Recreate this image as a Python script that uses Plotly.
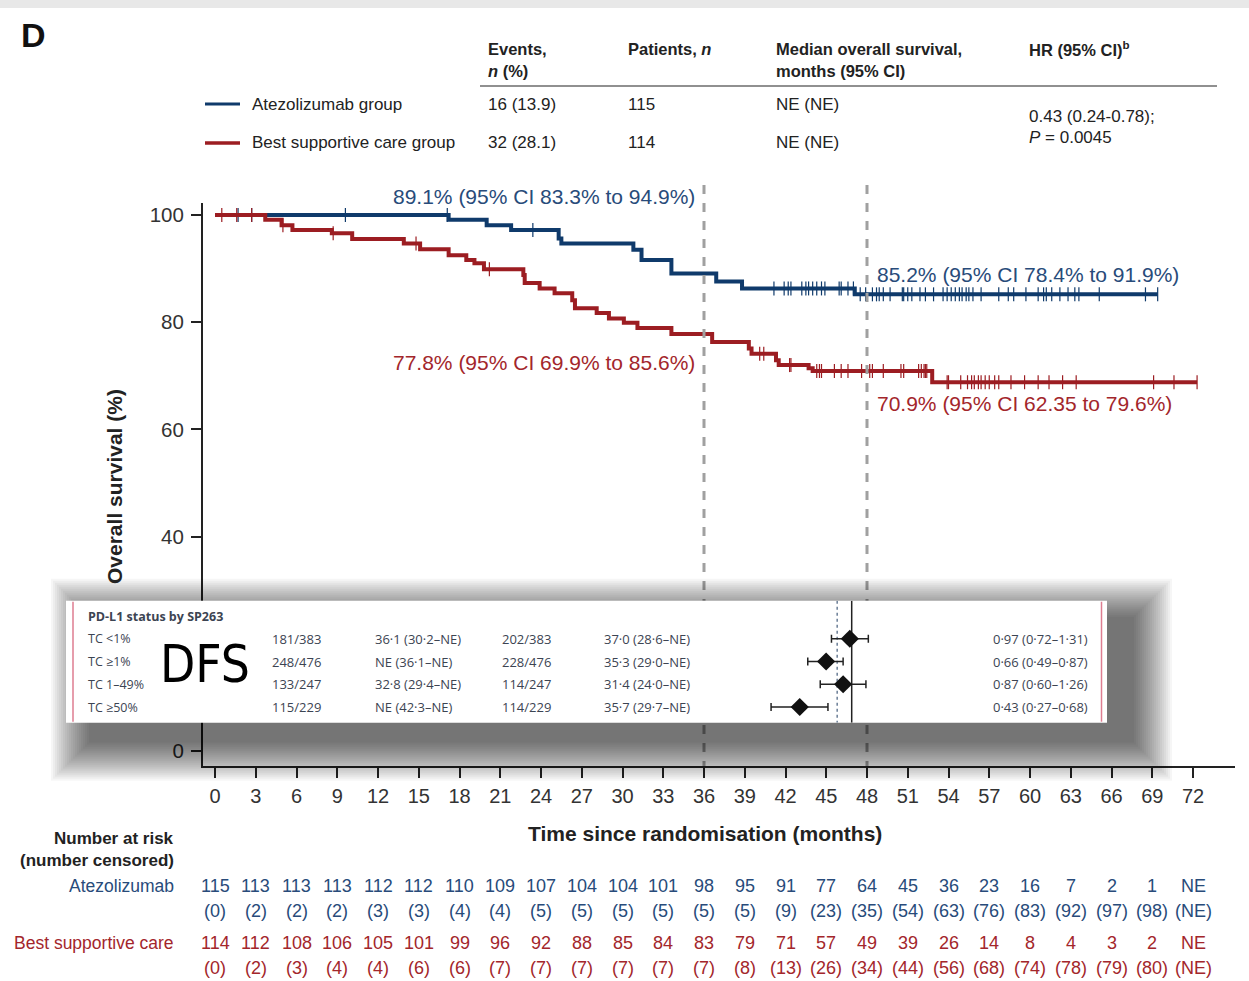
import plotly.graph_objects as go

W, H = 1249, 981

# ---------------- data ----------------
# Kaplan-Meier step curves (months, % surviving after each step)
atezo_t = [0, 17.2, 20.0, 21.8, 25.3, 25.5, 30.8, 31.4, 33.6, 36.9, 38.8, 47.1]
atezo_s = [100, 99.1, 98.1, 97.2, 95.6, 94.7, 93.5, 91.6, 89.1, 87.6, 86.3, 85.2]
atezo_end = 69.4
atezo_cens_t = [1.7, 2.7, 9.6, 17.1, 23.4, 41.15, 41.9, 42.2, 42.4, 43.2, 43.5, 43.7, 44.0, 44.3,
                44.65, 44.9, 45.95, 46.1, 46.6, 47.0, 47.5, 47.9, 48.4, 48.7, 48.9, 49.2, 49.7,
                50.6, 50.7, 51.0, 51.3, 51.9, 52.3, 52.9, 53.6, 53.9, 54.2, 54.5, 54.8, 55.0,
                55.3, 55.5, 55.8, 56.4, 57.7, 58.4, 58.8, 59.7, 60.6, 61.0, 61.2, 61.6, 62.2,
                62.8, 63.3, 63.6, 65.1, 68.5, 69.4]

bsc_t = [0, 3.7, 4.9, 5.7, 8.6, 10.1, 13.9, 15.1, 17.2, 18.5, 19.1, 19.8, 22.7, 22.8, 23.9,
         25.0, 26.3, 26.5, 28.1, 29.0, 30.1, 31.1, 33.6, 36.6, 39.3, 39.5, 41.3, 41.5, 43.7,
         44.0, 52.8]
bsc_s = [100, 99.1, 98.1, 97.2, 96.6, 95.5, 94.7, 93.6, 92.5, 91.6, 91.0, 89.9, 88.8, 87.3, 86.3,
         85.4, 84.1, 82.6, 81.7, 80.7, 79.9, 78.9, 77.8, 76.3, 75.1, 74.1, 72.9, 72.0, 71.4,
         70.9, 68.8]
bsc_end = 72.3
bsc_cens_t = [0.5, 1.6, 2.7, 5.0, 8.7, 14.8, 20.2, 40.1, 40.4, 42.3, 42.4, 44.3, 44.5, 44.65,
              45.6, 46.1, 46.6, 47.6, 48.2, 48.4, 49.2, 50.5, 50.7, 51.8, 52.0, 52.2, 52.3,
              52.4, 53.9, 54.0, 54.9, 55.4, 55.7, 55.9, 56.2, 56.4, 56.7, 57.0, 57.4, 57.7,
              58.6, 59.6, 60.6, 61.4, 62.4, 63.4, 69.1, 70.6, 72.3]

landmarks = [36, 48]
landmark_labels = {
    "atezo36": "89.1% (95% CI 83.3% to 94.9%)",
    "bsc36": "77.8% (95% CI 69.9% to 85.6%)",
    "atezo48": "85.2% (95% CI 78.4% to 91.9%)",
    "bsc48": "70.9% (95% CI 62.35 to 79.6%)",
}

months = list(range(0, 73, 3))
atezo_risk = ["115", "113", "113", "113", "112", "112", "110", "109", "107", "104", "104", "101",
              "98", "95", "91", "77", "64", "45", "36", "23", "16", "7", "2", "1", "NE"]
atezo_censn = ["0", "2", "2", "2", "3", "3", "4", "4", "5", "5", "5", "5", "5", "5", "9", "23",
               "35", "54", "63", "76", "83", "92", "97", "98", "NE"]
bsc_risk = ["114", "112", "108", "106", "105", "101", "99", "96", "92", "88", "85", "84", "83",
            "79", "71", "57", "49", "39", "26", "14", "8", "4", "3", "2", "NE"]
bsc_censn = ["0", "2", "3", "4", "4", "6", "6", "7", "7", "7", "7", "7", "7", "8", "13", "26",
             "34", "44", "56", "68", "74", "78", "79", "80", "NE"]

# summary table
tbl_groups = ["Atezolizumab group", "Best supportive care group"]
tbl_events = ["16 (13.9)", "32 (28.1)"]
tbl_patients = ["115", "114"]
tbl_median = ["NE (NE)", "NE (NE)"]
tbl_hr = ["0.43 (0.24-0.78);", "<i>P</i> = 0.0045"]

# inset (DFS by PD-L1)
subgroups = ["TC <1%", "TC ≥1%", "TC 1–49%", "TC ≥50%"]
dfs_atezo_n = ["181/383", "248/476", "133/247", "115/229"]
dfs_atezo_med = ["36·1 (30·2–NE)", "NE (36·1–NE)", "32·8 (29·4–NE)", "NE (42·3–NE)"]
dfs_bsc_n = ["202/383", "228/476", "114/247", "114/229"]
dfs_bsc_med = ["37·0 (28·6–NE)", "35·3 (29·0–NE)", "31·4 (24·0–NE)", "35·7 (29·7–NE)"]
hr = [0.97, 0.66, 0.87, 0.43]
hr_lo = [0.72, 0.49, 0.60, 0.27]
hr_hi = [1.31, 0.87, 1.26, 0.68]
hr_txt = ["0·97 (0·72–1·31)", "0·66 (0·49–0·87)", "0·87 (0·60–1·26)", "0·43 (0·27–0·68)"]
overall_hr = 0.79

# ---------------- style ----------------
FONT = "Liberation Sans, Arial, sans-serif"
INSET_FONT = "Open Sans, Noto Sans, sans-serif"
BLUE = "#0f3a6b"
RED = "#9c1d22"
BLUE_TXT = "#284b7a"
RED_TXT = "#a3262b"
INK = "#222222"
INSET_INK = "#3c4452"


def px(x):
    return x / W


def py(y):
    return 1 - y / H


def step_value(ts, ss, t):
    v = ss[0]
    for ti, si in zip(ts, ss):
        if ti <= t:
            v = si
    return v


fig = go.Figure()

# ---- main KM subplot (x, y) ----
for ts, ss, end, cens, col in [
    (atezo_t, atezo_s, atezo_end, atezo_cens_t, BLUE),
    (bsc_t, bsc_s, bsc_end, bsc_cens_t, RED),
]:
    fig.add_trace(go.Scatter(x=ts + [end], y=ss + [ss[-1]], mode="lines",
                             line=dict(color=col, width=4, shape="hv"),
                             showlegend=False, hoverinfo="skip", xaxis="x", yaxis="y"))
    fig.add_trace(go.Scatter(x=cens, y=[step_value(ts, ss, c) for c in cens], mode="markers",
                             marker=dict(symbol="line-ns", size=10,
                                         line=dict(color=col, width=1.2)),
                             showlegend=False, hoverinfo="skip", xaxis="x", yaxis="y"))

# dashed landmark lines (x in months, y on a full-height pixel axis)
for lm in landmarks:
    fig.add_trace(go.Scatter(x=[lm, lm], y=[185, 766], mode="lines",
                             line=dict(color="#a0a0a0", width=3, dash="dash"),
                             showlegend=False, hoverinfo="skip", xaxis="x", yaxis="y4"))

# ---- canvas subplot (x2, y2) in pixel coords: inset shadow + white box ----
box = (66, 600.7, 1107, 722.7)
dx, dy, step, K = 25, 18, 2.0, 20
for i in range(K, 0, -1):
    r = i * step
    x0, y0, x1, y1 = box[0] + dx - r, box[1] + dy - r, box[2] + dx + r, box[3] + dy + r
    fig.add_trace(go.Scatter(x=[x0, x1, x1, x0, x0], y=[y0, y0, y1, y1, y0], mode="lines",
                             fill="toself", fillcolor="rgba(0,0,0,0.034)",
                             line=dict(width=0, color="rgba(0,0,0,0)"),
                             showlegend=False, hoverinfo="skip", xaxis="x2", yaxis="y2"))
x0, y0, x1, y1 = box
fig.add_trace(go.Scatter(x=[x0, x1, x1, x0, x0], y=[y0, y0, y1, y1, y0], mode="lines",
                         fill="toself", fillcolor="white", line=dict(width=0, color="white"),
                         showlegend=False, hoverinfo="skip", xaxis="x2", yaxis="y2"))
for ex in (73, 1101.5):
    fig.add_trace(go.Scatter(x=[ex, ex], y=[y0 + 1, y1 - 1], mode="lines",
                             line=dict(color="#de7d90", width=1.5),
                             showlegend=False, hoverinfo="skip", xaxis="x2", yaxis="y2"))

# ---- forest subplot (x3 log, y3 rows) ----
rows = [1, 2, 3, 4]
for ref, dash, col in [(1.0, "solid", "#222222"), (overall_hr, "dot", "#6a7d96")]:
    fig.add_trace(go.Scatter(x=[ref, ref], y=[-0.6725, 4.69], mode="lines",
                             line=dict(color=col, width=1.5, dash=dash),
                             showlegend=False, hoverinfo="skip", xaxis="x3", yaxis="y3"))
fig.add_trace(go.Scatter(
    x=hr, y=rows, mode="markers",
    marker=dict(symbol="diamond", size=14, color="#111111"),
    error_x=dict(type="data", symmetric=False,
                 array=[h - m for h, m in zip(hr_hi, hr)],
                 arrayminus=[m - l for m, l in zip(hr, hr_lo)],
                 color="#222222", thickness=1.5, width=4),
    showlegend=False, hoverinfo="skip", xaxis="x3", yaxis="y3"))

# ---------------- annotations ----------------
ann = []


def A(x, y, text, size=17, color=INK, xanchor="left", yanchor="middle", font=FONT,
      xref="paper", yref="paper", **kw):
    ann.append(dict(x=x, y=y, text=text, xref=xref, yref=yref, xanchor=xanchor,
                    yanchor=yanchor, showarrow=False,
                    font=dict(family=font, size=size, color=color), **kw))


A(px(19), py(35), "<b>D</b>", size=34, color="#111111")

# table header
A(px(486), py(49), "<b>Events,</b>", size=16.5)
A(px(486), py(71), "<b><i>n</i> (%)</b>", size=16.5)
A(px(626), py(49), "<b>Patients, <i>n</i></b>", size=16.5)
A(px(774), py(49), "<b>Median overall survival,</b>", size=16.5)
A(px(774), py(71), "<b>months (95% CI)</b>", size=16.5)
A(px(1027), py(49), "<b>HR (95% CI)<sup>b</sup></b>", size=16.5)
row_y = [104, 143]
for i in range(2):
    A(px(250), py(row_y[i]), tbl_groups[i], size=17)
    A(px(486), py(row_y[i]), tbl_events[i], size=17)
    A(px(626), py(row_y[i]), tbl_patients[i], size=17)
    A(px(774), py(row_y[i]), tbl_median[i], size=17)
A(px(1027), py(117), tbl_hr[0], size=17)
A(px(1027), py(138), tbl_hr[1], size=17)

# landmark labels
A(px(697), py(197), landmark_labels["atezo36"], size=21, color=BLUE_TXT, xanchor="right")
A(px(697), py(362), landmark_labels["bsc36"], size=21, color=RED_TXT, xanchor="right")
A(px(875), py(274), landmark_labels["atezo48"], size=21, color=BLUE_TXT)
A(px(875), py(403), landmark_labels["bsc48"], size=21, color=RED_TXT)

# axis titles
A(px(705), py(833), "<b>Time since randomisation (months)</b>", size=21, xanchor="center")
A(px(115), py(487), "<b>Overall survival (%)</b>", size=21, xanchor="center", textangle=-90)

# number at risk
A(px(176), py(838), "<b>Number at risk</b>", size=17, xanchor="right")
A(px(176), py(860), "<b>(number censored)</b>", size=17, xanchor="right")
A(px(176), py(886), "Atezolizumab", size=17.5, color=BLUE_TXT, xanchor="right")
A(px(176), py(943), "Best supportive care", size=17.5, color=RED_TXT, xanchor="right")
for m, a, ac, b, bc in zip(months, atezo_risk, atezo_censn, bsc_risk, bsc_censn):
    A(m, py(886), a, size=18, color=BLUE_TXT, xanchor="center", xref="x")
    A(m, py(911), f"({ac})", size=18, color=BLUE_TXT, xanchor="center", xref="x")
    A(m, py(943), b, size=18, color=RED_TXT, xanchor="center", xref="x")
    A(m, py(968), f"({bc})", size=18, color=RED_TXT, xanchor="center", xref="x")

# inset text
A(px(86), 0, "<b>PD-L1 status by SP263</b>", size=12.5, color=INSET_INK, font=INSET_FONT,
  yref="y3")
for i, r in enumerate(rows):
    A(px(86), r, subgroups[i], size=12.5, color=INSET_INK, font=INSET_FONT, yref="y3")
    A(px(270), r, dfs_atezo_n[i], size=13, color=INSET_INK, font=INSET_FONT, yref="y3")
    A(px(373), r, dfs_atezo_med[i], size=13, color=INSET_INK, font=INSET_FONT, yref="y3")
    A(px(500), r, dfs_bsc_n[i], size=13, color=INSET_INK, font=INSET_FONT, yref="y3")
    A(px(602), r, dfs_bsc_med[i], size=13, color=INSET_INK, font=INSET_FONT, yref="y3")
    A(px(1090), r, hr_txt[i], size=13, color=INSET_INK, font=INSET_FONT, yref="y3",
      xanchor="right")
A(px(205), py(664), "DFS", size=51, color="#000000", xanchor="center",
  font="Liberation Sans Narrow, DejaVu Sans Condensed, Roboto, sans-serif")

# ---------------- shapes (decor) ----------------
shapes = [
    dict(type="rect", xref="paper", yref="paper", x0=0, x1=1, y0=py(8), y1=1,
         fillcolor="#e8e8e8", line=dict(width=0), layer="below"),
    dict(type="line", xref="paper", yref="paper", x0=px(480), x1=px(1217), y0=py(86), y1=py(86),
         line=dict(color="#222222", width=1.2)),
    dict(type="line", xref="paper", yref="paper", x0=px(205), x1=px(240), y0=py(104), y1=py(104),
         line=dict(color=BLUE, width=3)),
    dict(type="line", xref="paper", yref="paper", x0=px(205), x1=px(240), y0=py(143), y1=py(143),
         line=dict(color=RED, width=3.5)),
]

# ---------------- axes ----------------
k = (1193 - 215) / 72.0
xr0 = -(215 - 203) / k
xr1 = xr0 + (1235 - 203) / k
ypx = 5.36
yr0 = -(766 - 751) / ypx
yr1 = 100 + (215 - 202.7) / ypx

fig.update_layout(
    width=W, height=H,
    margin=dict(l=0, r=0, t=0, b=0),
    paper_bgcolor="white",
    plot_bgcolor="rgba(0,0,0,0)",
    showlegend=False,
    font=dict(family=FONT, color=INK),
    annotations=ann,
    shapes=shapes,
    xaxis=dict(domain=[px(203), px(1235)], range=[xr0, xr1], anchor="y",
               showline=True, linecolor="#222222", linewidth=2,
               ticks="outside", ticklen=10, tickwidth=2, tickcolor="#222222",
               tickvals=months, ticktext=[str(m) for m in months],
               tickfont=dict(size=20, color="#333333", family=FONT),
               ticklabelstandoff=1,
               showgrid=False, zeroline=False, fixedrange=True),
    yaxis=dict(domain=[py(766), py(202.7)], range=[yr0, yr1], anchor="x",
               showline=True, linecolor="#222222", linewidth=2,
               ticks="outside", ticklen=10, tickwidth=2, tickcolor="#222222",
               tickvals=[0, 20, 40, 60, 80, 100],
               tickfont=dict(size=20.5, color="#333333", family=FONT),
               ticklabelstandoff=3,
               showgrid=False, zeroline=False, fixedrange=True),
    yaxis4=dict(domain=[0, 1], range=[H, 0], anchor="x", visible=False, fixedrange=True,
                showgrid=False, zeroline=False),
    xaxis2=dict(domain=[0, 1], range=[0, W], anchor="y2", visible=False, fixedrange=True,
                showgrid=False, zeroline=False),
    yaxis2=dict(domain=[0, 1], range=[H, 0], anchor="x2", visible=False, fixedrange=True,
                showgrid=False, zeroline=False),
    xaxis3=dict(domain=[px(760), px(880)], type="log", range=[-0.6467, 0.1996], anchor="y3",
                visible=False, fixedrange=True, showgrid=False, zeroline=False),
    yaxis3=dict(domain=[py(722.7), py(600.7)], range=[4.69, -0.6725], anchor="x3",
                visible=False, fixedrange=True, showgrid=False, zeroline=False),
)

fig.write_html("out.html")
